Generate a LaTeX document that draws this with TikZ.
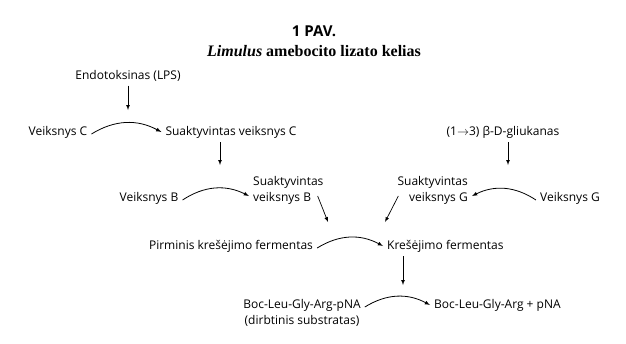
\documentclass[tikz,border=0pt]{standalone}
\usepackage{fontspec}
\setmainfont{Open Sans}
\newfontfamily\titleserif{Liberation Serif}
\usepackage{tikz}
\tikzstyle{arrow} = [-latex, line width=0.7pt]
\tikzstyle{bendarrow} = [-latex, line width=0.8pt]

\begin{document}
\begin{tikzpicture}[x=1pt, y=1pt, every node/.style={font=\fontsize{12}{16}\selectfont, inner sep=4pt}]
		\useasboundingbox (0,0) rectangle (626,-343);
		\node (title) at (314,-31) {\fontsize{15}{18}\selectfont\bfseries 1 PAV.};
		\node (subtitle) at (314,-51) {\fontsize{16}{19}\selectfont\titleserif\bfseries\textit{Limulus} amebocito lizato kelias};
		
		\node (endo) at (128,-76) {Endotoksinas (LPS)};
		\node (vc) at (58,-132) {Veiksnys C};
		\node (svc) at (231,-132) {Suaktyvintas veiksnys C};
		\node (vb) at (149,-198) {Veiksnys B};
		\node (svb) [anchor=west, align=left] at (249,-190) {Suaktyvintas\\veiksnys B};
		\node (gluk) at (503,-132) {(1$\rightarrow$3) β-D-gliukanas};
		\node (vg) at (570,-198) {Veiksnys G};
		\node (svg) [anchor=east, align=right] at (472,-190) {Suaktyvintas\\veiksnys G};
		\node (pirm) at (231,-246) {Pirminis krešėjimo fermentas};
		\node (kres) [anchor=west] at (383,-246) {Krešėjimo fermentas};
		\node (boc) [align=center] at (302,-313) {Boc-Leu-Gly-Arg-pNA\\(dirbtinis substratas)};
		\node (prod) [anchor=west] at (430,-305) {Boc-Leu-Gly-Arg + pNA};
		
		\coordinate (c1) at (128,-110);
		\coordinate (c2) at (220,-165);
		\coordinate (c3) at (328,-222);
		\coordinate (c4) at (385,-222);
		\coordinate (c5) at (508,-165);
		\coordinate (c6) at (403,-285);
		
		\draw [arrow] (endo) -- (c1);
		\draw [arrow] (svc.south -| c2) -- (c2);
		\draw [arrow] (gluk.south -| c5) -- (c5);
		\draw [arrow] (kres.south -| c6) -- (c6);
		\draw [arrow] ([xshift=-10pt, yshift=-6pt]svb.east) -- (c3);
		\draw [arrow] ([xshift=5pt, yshift=-6pt]svg.west) -- (c4);
		
		\draw [bendarrow] ([yshift=-2pt]vc.east) to[bend left=30] (svc.west);
		\draw [bendarrow] ([yshift=-2pt]vb.east) to[bend left=30] ([yshift=-6pt]svb.west);
		\draw [bendarrow] ([yshift=-2pt]vg.west) to[bend right=30] ([yshift=-6pt]svg.east);
		\draw [bendarrow] ([yshift=-2pt]pirm.east) to[bend left=30] (kres.west);
		\draw [bendarrow] ([yshift=6pt]boc.east) to[bend left=30] (prod.west);
	\end{tikzpicture}
\end{document}
